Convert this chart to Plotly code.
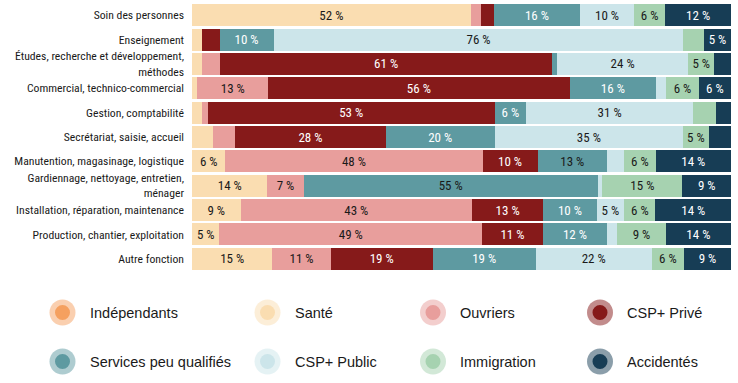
import plotly.graph_objects as go

categories = [
    "Soin des personnes",
    "Enseignement",
    "Études, recherche et développement,<br>méthodes",
    "Commercial, technico-commercial",
    "Gestion, comptabilité",
    "Secrétariat, saisie, accueil",
    "Manutention, magasinage, logistique",
    "Gardiennage, nettoyage, entretien,<br>ménager",
    "Installation, réparation, maintenance",
    "Production, chantier, exploitation",
    "Autre fonction",
]

series_names = ["Indépendants", "Santé", "Ouvriers", "CSP+ Privé",
                "Services peu qualifiés", "CSP+ Public", "Immigration", "Accidentés"]

independants = [0, 0, 0, 0, 0, 0, 0, 0, 0, 0, 0]
sante = [51.7, 1.9, 1.9, 1.0, 1.9, 3.9, 6.2, 14.0, 9.0, 5.1, 14.9]
ouvriers = [2.0, 0, 3.3, 13.1, 1.0, 4.1, 47.7, 6.7, 42.9, 48.7, 10.8]
csp_prive = [2.3, 3.2, 61.4, 55.9, 53.2, 27.9, 10.2, 0, 13.2, 11.3, 18.9]
services = [16.0, 10.0, 0.9, 16.0, 5.8, 20.2, 12.9, 54.6, 9.9, 11.9, 19.1]
csp_public = [10.0, 75.9, 24.3, 1.9, 31.0, 34.9, 3.2, 0.8, 5.1, 1.9, 21.5]
immigration = [5.8, 3.8, 4.8, 6.0, 4.2, 4.8, 5.8, 14.9, 5.8, 9.0, 6.0]
accidentes = [12.2, 5.0, 3.1, 6.0, 2.8, 4.1, 14.0, 9.0, 14.0, 12.1, 8.7]

# labels printed in the source that differ from the drawn width
label_override = {("Accidentés", 9): 14}

series_values = [independants, sante, ouvriers, csp_prive,
                 services, csp_public, immigration, accidentes]

colors = ["#F5A05F", "#FADDB1", "#E89E9C", "#861A1A",
          "#5E9AA1", "#CCE5EA", "#A6D2B0", "#173D55"]
halos = ["rgba(245,160,95,0.5)", "rgba(250,221,177,0.5)", "rgba(232,158,156,0.5)",
         "rgba(134,26,26,0.5)", "rgba(94,154,161,0.5)", "rgba(204,229,234,0.5)",
         "rgba(166,210,176,0.5)", "rgba(23,61,85,0.5)"]

DARK = "#1a1a1a"
WHITE = "#ffffff"
text_colors = {
    "Indépendants": [DARK] * 11,
    "Santé": [DARK] * 11,
    "Ouvriers": [DARK] * 11,
    "CSP+ Privé": [WHITE] * 11,
    "Services peu qualifiés": [WHITE] * 6 + [DARK, DARK] + [WHITE] * 3,
    "CSP+ Public": [DARK] * 11,
    "Immigration": [DARK] * 11,
    "Accidentés": [WHITE] * 11,
}

FONT = "Roboto Condensed, Liberation Sans Narrow, Arial Narrow, sans-serif"
LEGEND_FONT = "Liberation Sans, Arial, sans-serif"

fig = go.Figure()
for name, vals, col in zip(series_names, series_values, colors):
    texts = []
    for i, v in enumerate(vals):
        lab = label_override.get((name, i), round(v))
        texts.append(f"{lab} %" if round(v) >= 5 else "")
    fig.add_trace(go.Bar(
        name=name, y=categories, x=vals, orientation="h",
        marker=dict(color=col, line=dict(width=0)),
        text=texts, textposition="inside", insidetextanchor="middle",
        textangle=0, constraintext="none",
        textfont=dict(family=FONT, size=13, color=text_colors[name]),
        showlegend=False, hoverinfo="skip",
    ))

# legend drawn manually: 2 rows x 4 columns of haloed circles
W, H = 738, 383
ml, mr, mt, mb = 192, 7, 3, 112
pw, ph = W - ml - mr, H - mt - mb
col_cx = [62.5, 267.5, 433, 600]
row_cy = [312.5, 361.5]
shapes, annotations = [], []
for k, name in enumerate(series_names):
    cx = col_cx[k % 4]
    cy = row_cy[k // 4]
    xa = (cx - ml) / pw
    ya = (H - mb - cy) / ph
    shapes.append(dict(type="circle", xref="paper", yref="paper",
                       xsizemode="pixel", ysizemode="pixel", xanchor=xa, yanchor=ya,
                       x0=-13, x1=13, y0=-13, y1=13,
                       fillcolor=halos[k], line=dict(width=0)))
    shapes.append(dict(type="circle", xref="paper", yref="paper",
                       xsizemode="pixel", ysizemode="pixel", xanchor=xa, yanchor=ya,
                       x0=-7.5, x1=7.5, y0=-7.5, y1=7.5,
                       fillcolor=colors[k], line=dict(width=0)))
    annotations.append(dict(xref="paper", yref="paper", x=(cx + 25 - ml) / pw, y=ya,
                            xanchor="left", yanchor="middle", showarrow=False,
                            text=name, font=dict(family=LEGEND_FONT, size=14.5, color=DARK)))

fig.update_layout(
    width=W, height=H, barmode="stack", barnorm="percent", bargap=0.1,
    margin=dict(l=ml, r=mr, t=mt, b=mb, pad=0, autoexpand=False),
    paper_bgcolor="white", plot_bgcolor="white",
    uniformtext=dict(minsize=13, mode="show"),
    shapes=shapes, annotations=annotations,
    xaxis=dict(range=[0, 100], showgrid=False, zeroline=False, automargin=False,
               showticklabels=False, showline=False, fixedrange=True),
    yaxis=dict(autorange="reversed", showgrid=False, zeroline=False, showline=False,
               ticks="", ticklabelstandoff=7, automargin=False,
               tickfont=dict(family=FONT, size=11.7, color=DARK)),
    font=dict(family=FONT),
)

fig.write_html("out.html", config={"displayModeBar": False},
               post_script="document.body.style.margin='0px';")
